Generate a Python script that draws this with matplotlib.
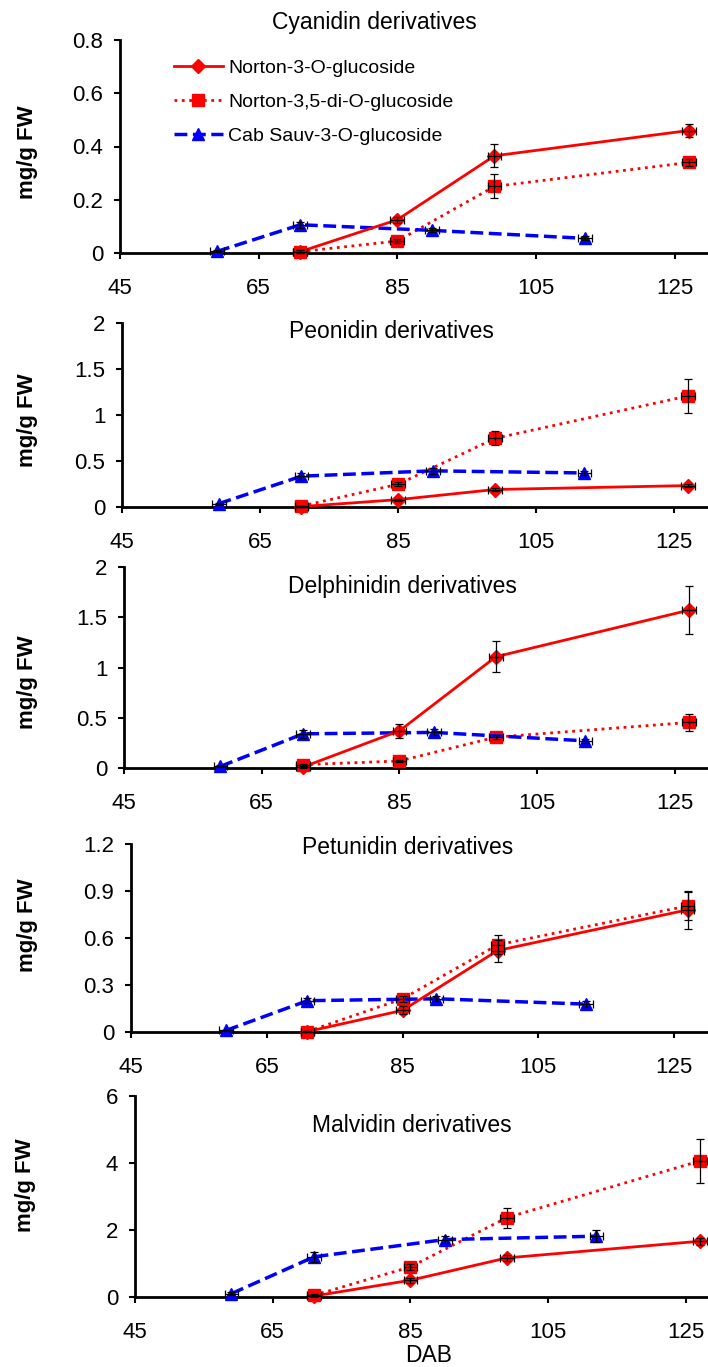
import numpy as np
import matplotlib
matplotlib.use("Agg")
import matplotlib.pyplot as plt
from matplotlib.ticker import FuncFormatter

plt.rcParams['font.family'] = ['Liberation Sans', 'DejaVu Sans']

W, H = 708, 1367

# days after bloom
x_norton = [71, 85, 99, 127]
x_cab = [59, 71, 90, 112]
x_err = 1.0

titles = ["Cyanidin derivatives", "Peonidin derivatives", "Delphinidin derivatives",
          "Petunidin derivatives", "Malvidin derivatives"]
labels = ["Norton-3-O-glucoside", "Norton-3,5-di-O-glucoside", "Cab Sauv-3-O-glucoside"]

# Norton-3-O-glucoside (mean, err)
n3_cya = [0.005, 0.125, 0.365, 0.46]
n3_cya_err = [0.005, 0.012, 0.043, 0.024]
n3_peo = [0.005, 0.08, 0.19, 0.233]
n3_peo_err = [0.005, 0.01, 0.02, 0.02]
n3_del = [0.01, 0.37, 1.107, 1.57]
n3_del_err = [0.01, 0.07, 0.155, 0.24]
n3_pet = [0.003, 0.138, 0.52, 0.78]
n3_pet_err = [0.003, 0.025, 0.07, 0.12]
n3_mal = [0.03, 0.5, 1.167, 1.665]
n3_mal_err = [0.02, 0.08, 0.1, 0.1]

# Norton-3,5-di-O-glucoside
n35_cya = [0.005, 0.045, 0.25, 0.34]
n35_cya_err = [0.005, 0.008, 0.045, 0.012]
n35_peo = [0.01, 0.247, 0.745, 1.207]
n35_peo_err = [0.005, 0.02, 0.076, 0.184]
n35_del = [0.033, 0.07, 0.307, 0.453]
n35_del_err = [0.01, 0.01, 0.02, 0.08]
n35_pet = [0.003, 0.212, 0.556, 0.805]
n35_pet_err = [0.003, 0.02, 0.06, 0.09]
n35_mal = [0.05, 0.9, 2.37, 4.06]
n35_mal_err = [0.03, 0.08, 0.3, 0.66]

# Cab Sauv-3-O-glucoside
cab_cya = [0.006, 0.106, 0.085, 0.055]
cab_cya_err = [0.004, 0.012, 0.008, 0.008]
cab_peo = [0.036, 0.335, 0.393, 0.37]
cab_peo_err = [0.01, 0.03, 0.03, 0.02]
cab_del = [0.016, 0.34, 0.354, 0.27]
cab_del_err = [0.01, 0.04, 0.03, 0.02]
cab_pet = [0.01, 0.2, 0.212, 0.178]
cab_pet_err = [0.005, 0.015, 0.015, 0.02]
cab_mal = [0.1, 1.2, 1.715, 1.815]
cab_mal_err = [0.05, 0.15, 0.1, 0.18]

n3_all = [n3_cya, n3_peo, n3_del, n3_pet, n3_mal]
n3_errs = [n3_cya_err, n3_peo_err, n3_del_err, n3_pet_err, n3_mal_err]
n35_all = [n35_cya, n35_peo, n35_del, n35_pet, n35_mal]
n35_errs = [n35_cya_err, n35_peo_err, n35_del_err, n35_pet_err, n35_mal_err]
cab_all = [cab_cya, cab_peo, cab_del, cab_pet, cab_mal]
cab_errs = [cab_cya_err, cab_peo_err, cab_del_err, cab_pet_err, cab_mal_err]

y_max = [0.8, 2, 2, 1.2, 6]
y_step = [0.2, 0.5, 0.5, 0.3, 2]

# layout in pixels: left, top, bottom, x max
boxes = [(120, 40, 253, 129.8), (122, 323, 507, 129.9), (124, 567, 768, 129.8),
         (131, 844, 1032, 130.0), (135, 1096, 1297, 128.2)]
title_pos = [(374, 23), (391, 332), (402, 586), (408, 848), (412, 1125)]
ylab_pos = [(27, 152), (27, 420), (27, 682), (27, 925), (26, 1185)]

fig = plt.figure(figsize=(W / 100, H / 100), dpi=100)

for i in range(5):
    left, top, bot, xmax = boxes[i]
    ax = fig.add_axes([left / W, 1 - bot / H, (W - left) / W, (bot - top) / H])
    ax.set_xlim(45, xmax)
    ax.set_ylim(0, y_max[i])
    ax.set_xticks([45, 65, 85, 105, 125])
    ax.set_yticks(np.arange(0, y_max[i] + y_step[i] / 2, y_step[i]))
    ax.yaxis.set_major_formatter(FuncFormatter(lambda v, p: "%g" % round(v, 2)))
    for s in ["top", "right"]:
        ax.spines[s].set_visible(False)
    for s in ["left", "bottom"]:
        ax.spines[s].set_linewidth(2.0)
        ax.spines[s].set_zorder(1)
    ax.tick_params(direction="out", length=4, width=1.5, labelsize=16, pad=8)
    ax.tick_params(axis="x", pad=14)

    for xs, ys, es in [(x_norton, n3_all[i], n3_errs[i]),
                       (x_norton, n35_all[i], n35_errs[i]),
                       (x_cab, cab_all[i], cab_errs[i])]:
        ax.errorbar(xs, ys, yerr=es, xerr=x_err, fmt="none", ecolor="black",
                    elinewidth=0.9, capsize=3, capthick=0.9, zorder=5, clip_on=False)

    l1, = ax.plot(x_norton, n3_all[i], color="red", ls="-", lw=2, marker="D", ms=7,
                  zorder=4, clip_on=False)
    l2, = ax.plot(x_norton, n35_all[i], color="red", ls=":", lw=2, marker="s", ms=9,
                  zorder=3, clip_on=False)
    l3, = ax.plot(x_cab, cab_all[i], color="blue", ls="--", lw=2.5, marker="^", ms=8,
                  zorder=3, clip_on=False)

    fig.text(title_pos[i][0] / W, 1 - title_pos[i][1] / H, titles[i], fontsize=16.5,
             ha="center", va="center")
    fig.text(ylab_pos[i][0] / W, 1 - ylab_pos[i][1] / H, "mg/g FW", fontsize=16,
             fontweight="bold", rotation=90, ha="center", va="center")

    if i == 0:
        ax.legend([l1, l2, l3], labels, loc="upper left", bbox_to_anchor=(174 / W, 1 - 59 / H),
                  bbox_transform=fig.transFigure, frameon=False, fontsize=14, numpoints=1,
                  handlelength=2.5, handletextpad=0.3, labelspacing=0.86,
                  borderpad=0, borderaxespad=0)

fig.text(429 / W, 1 - 1355 / H, "DAB", fontsize=16.5, ha="center", va="center")

fig.savefig("out.png", dpi=100)
